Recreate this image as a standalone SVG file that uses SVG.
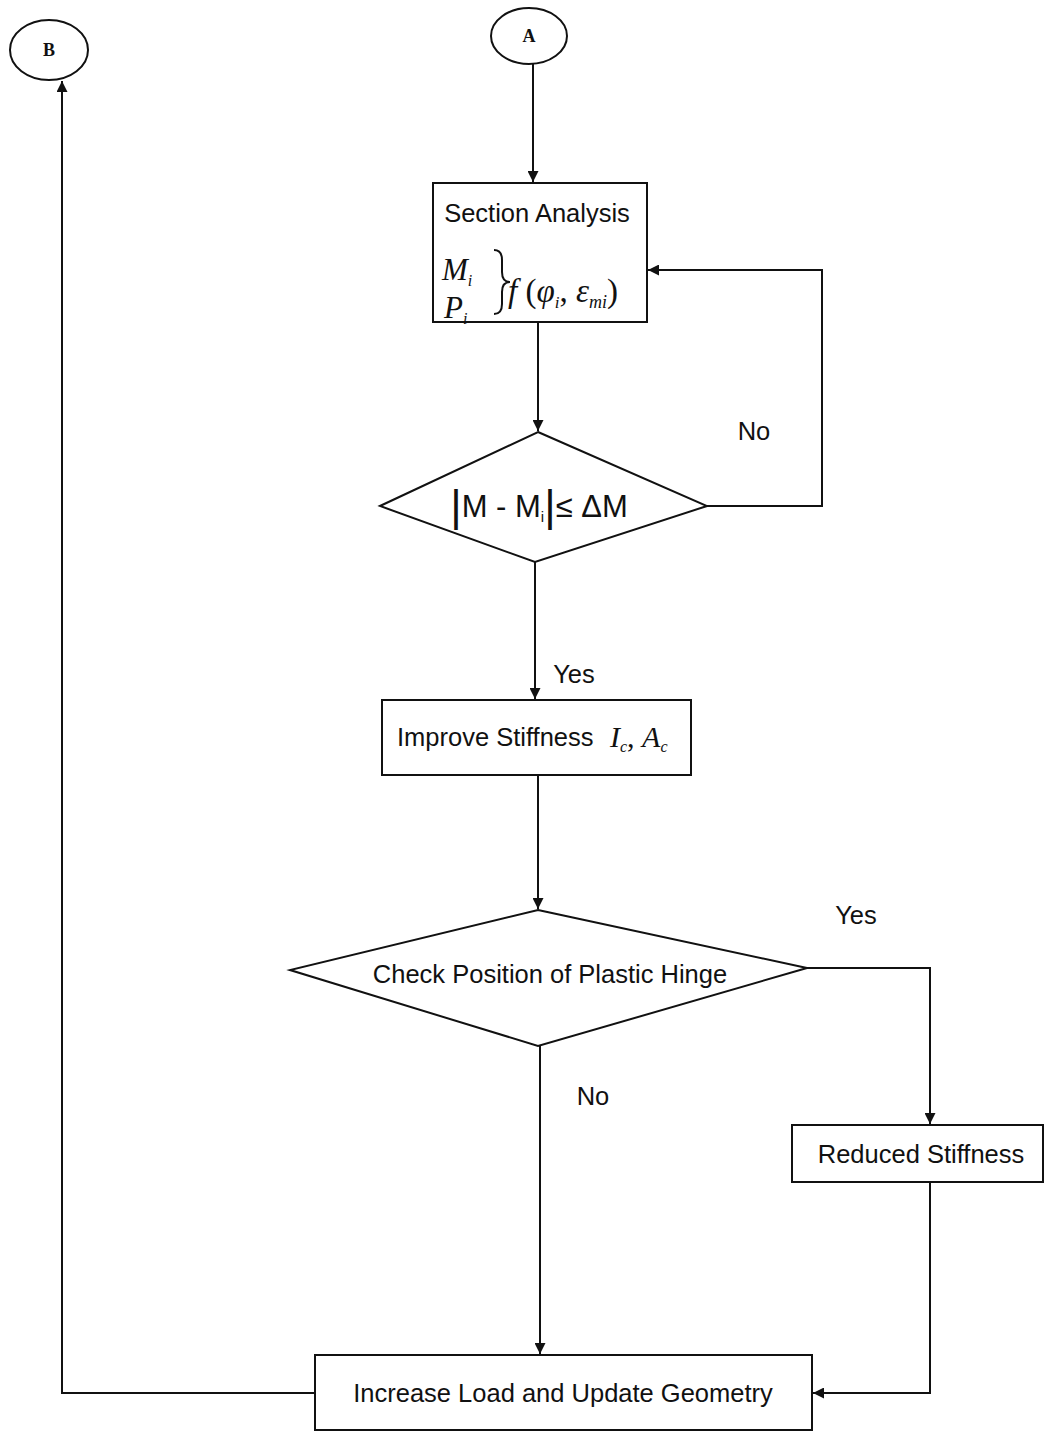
<svg xmlns="http://www.w3.org/2000/svg" width="1048" height="1432" viewBox="0 0 1048 1432">
<defs>
<marker id="arr" viewBox="0 0 10 10" refX="10" refY="5" markerWidth="11" markerHeight="11" markerUnits="userSpaceOnUse" orient="auto">
<path d="M0,0 L10,5 L0,10 Z" fill="#111"/>
</marker>
<style>
.shape{fill:#fff;stroke:#111;stroke-width:2}
.line{fill:none;stroke:#111;stroke-width:2;marker-end:url(#arr)}
.plain{fill:none;stroke:#111;stroke-width:2}
.t{font-family:"Liberation Sans","DejaVu Sans",sans-serif;font-size:25.5px;fill:#111}
.c{font-family:"Liberation Serif","Times New Roman",serif;font-size:18px;font-weight:bold;fill:#111}
.m{font-family:"Liberation Serif","Times New Roman",serif;font-style:italic;fill:#111}
</style>
</defs>
<rect width="1048" height="1432" fill="#fff"/>
<g id="connectors">
<path class="line" d="M533,64 L533,182"/>
<path class="line" d="M538,322 L538,431"/>
<path class="line" d="M707,506 L822,506 L822,270 L648,270"/>
<path class="line" d="M535,562 L535,699"/>
<path class="line" d="M538,775 L538,909"/>
<path class="line" d="M807,968 L930,968 L930,1124"/>
<path class="line" d="M930,1182 L930,1393 L813,1393"/>
<path class="line" d="M540,1046 L540,1354"/>
<path class="line" d="M315,1393 L62,1393 L62,81"/>
<text class="t" x="754" y="440" text-anchor="middle">No</text>
<text class="t" x="574" y="683" text-anchor="middle">Yes</text>
<text class="t" x="856" y="924" text-anchor="middle">Yes</text>
<text class="t" x="593" y="1105" text-anchor="middle">No</text>
</g>
<g id="nodeA">
<ellipse class="shape" cx="529" cy="36" rx="38" ry="28"/>
<text class="c" x="529" y="42" text-anchor="middle">A</text>
</g>
<g id="nodeB">
<ellipse class="shape" cx="49" cy="50" rx="39" ry="30"/>
<text class="c" x="49" y="56" text-anchor="middle">B</text>
</g>
<g id="section">
<rect class="shape" x="433" y="183" width="214" height="139"/>
<text class="t" x="537" y="222" text-anchor="middle">Section Analysis</text>
<text class="m" x="442" y="280" style="font-size:31px">M<tspan style="font-size:16px" dy="6">i</tspan></text>
<text class="m" x="444" y="318" style="font-size:31px">P<tspan style="font-size:16px" dy="6">i</tspan></text>
<path class="plain" d="M494,250 Q502,250 502,260 L502,272 Q502,282 510,282 Q502,282 502,292 L502,304 Q502,314 494,314" stroke-width="1.8"/>
<text class="m" x="508" y="302" style="font-size:33px">f<tspan style="font-style:normal"> (</tspan>φ<tspan style="font-size:17px" dy="6">i</tspan><tspan dy="-6" style="font-style:normal">, </tspan>ε<tspan style="font-size:18px" dy="6">mi</tspan><tspan dy="-6" style="font-style:normal">)</tspan></text>
</g>
<g id="check1">
<polygon class="shape" points="538,432 707,506 535,562 380,506"/>
<text class="t" x="539" y="517" text-anchor="middle" style="font-size:31px"><tspan style="font-size:44px" dy="4">|</tspan><tspan dy="-4">M - M</tspan><tspan style="font-size:15px" dy="5">i</tspan><tspan style="font-size:44px" dy="-1">|</tspan><tspan dy="-4">≤ ΔM</tspan></text>
</g>
<g id="improve">
<rect class="shape" x="382" y="700" width="309" height="75"/>
<text class="t" x="397" y="746">Improve Stiffness</text>
<text class="m" x="610" y="747" style="font-size:30px">I<tspan style="font-size:16px" dy="5">c</tspan><tspan dy="-5" style="font-style:normal">, </tspan>A<tspan style="font-size:16px" dy="5">c</tspan></text>
</g>
<g id="check2">
<polygon class="shape" points="538,910 807,968 538,1046 290,970"/>
<text class="t" x="550" y="983" text-anchor="middle">Check Position of Plastic Hinge</text>
</g>
<g id="reduced">
<rect class="shape" x="792" y="1125" width="251" height="57"/>
<text class="t" x="921" y="1163" text-anchor="middle">Reduced Stiffness</text>
</g>
<g id="increase">
<rect class="shape" x="315" y="1355" width="497" height="75"/>
<text class="t" x="563" y="1402" text-anchor="middle">Increase Load and Update Geometry</text>
</g>
</svg>
